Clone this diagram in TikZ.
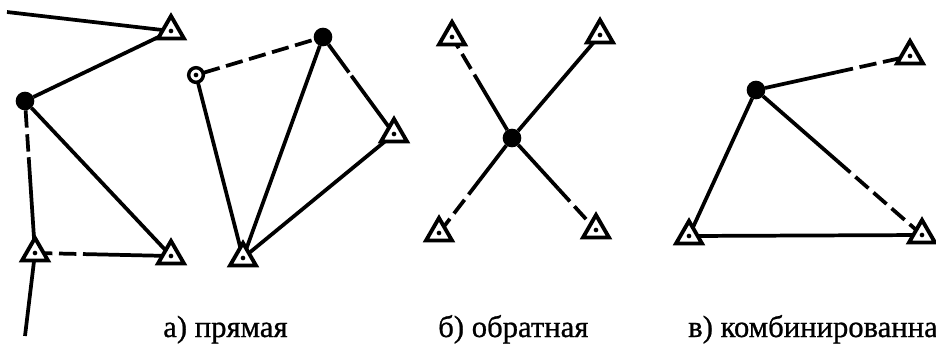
\documentclass[tikz,border=0pt]{standalone}
\usepackage{fontspec}
\setmainfont[FakeBold=0.8]{Liberation Serif}
\usetikzlibrary{shapes.geometric,calc}
\tikzset{
  x=0.75pt,y=-0.75pt,
  ptdot/.style={circle,fill=black,draw=none,inner sep=0pt,minimum size=3.5pt},
  tri/.style={regular polygon,regular polygon sides=3,draw=black,fill=white,line width=2.9pt,
     inner sep=0pt,outer sep=0pt,minimum size=22.5pt,label={[ptdot]center:}},
  ring/.style={circle,draw=black,fill=white,line width=2.6pt,inner sep=0pt,outer sep=0pt,minimum size=11pt,label={[ptdot]center:}},
  blk/.style={circle,fill=black,inner sep=0pt,outer sep=0pt,minimum size=14pt},
  ln/.style={draw=black,line width=2.8pt},
  dsh/.style={ln,dash pattern=on 13pt off 5pt},
  captxt/.style={font=\fontsize{23pt}{26pt}\selectfont,anchor=base west,inner sep=0pt}
}
\begin{document}
\begin{tikzpicture}
\useasboundingbox (0,0) rectangle (936,344);
\fill[white] (0,0) rectangle (936,344);
% part a, left
\coordinate (f1) at (7,12);
\coordinate (f2) at (25,336);
\coordinate (t1p) at (171,31);
\coordinate (t2p) at (35,253);
\coordinate (t3p) at (171,256);
\node[blk] (a1) at (25,101) {};
\coordinate (m1) at ($(a1)!0.37!(t2p)$);
\coordinate (m2) at ($(t2p)!0.39!(t3p)$);
\draw[ln] (f1) -- (t1p);
\draw[ln] (t1p) -- (a1);
\draw[dsh] (a1) -- (m1);
\draw[ln] (m1) -- (t2p);
\draw[ln] (a1) -- (t3p);
\draw[dsh] (t2p) -- (m2);
\draw[ln] (m2) -- (t3p);
\draw[ln] (f2) -- (t2p);
\node[tri] (t1) at (t1p) {};
\node[tri] (t2) at (t2p) {};
\node[tri] (t3) at (t3p) {};
% part a, right
\coordinate (t4p) at (243,258);
\coordinate (t5p) at (394,134);
\node[blk] (a2) at (323,37) {};
\node[ring] (r) at (196,75) {};
\coordinate (m3) at ($(a2)!0.62!(t5p)$);
\draw[dsh] (r) -- (a2);
\draw[ln] (r) -- (t4p);
\draw[ln] (a2) -- (t4p);
\draw[ln] (t5p) -- (t4p);
\draw[dsh,dash pattern=on 26pt off 3pt] (a2) -- (m3);
\draw[ln] (m3) -- (t5p);
\node[tri] (t4) at (t4p) {};
\node[tri] (t5) at (t5p) {};
% part b
\coordinate (t6p) at (452,37);
\coordinate (t7p) at (600,35);
\coordinate (t8p) at (439,233);
\coordinate (t9p) at (596,230);
\node[blk,minimum size=14pt] (b) at (512,138) {};
\coordinate (m4) at ($(b)!0.48!(t6p)$);
\coordinate (m5) at ($(b)!0.45!(t8p)$);
\coordinate (m6) at ($(b)!0.55!(t9p)$);
\draw[ln] (b) -- (m4);
\draw[dsh] (m4) -- (t6p);
\draw[ln] (b) -- (t7p);
\draw[ln] (b) -- (m5);
\draw[dsh] (m5) -- (t8p);
\draw[ln] (b) -- (m6);
\draw[dsh] (m6) -- (t9p);
\node[tri] (t6) at (t6p) {};
\node[tri] (t7) at (t7p) {};
\node[tri] (t8) at (t8p) {};
\node[tri] (t9) at (t9p) {};
% part c
\coordinate (t10p) at (910,56);
\coordinate (t11p) at (689,236);
\coordinate (t12p) at (922,235);
\node[blk] (c) at (756,90) {};
\coordinate (m7) at ($(c)!0.52!(t10p)$);
\coordinate (m8) at ($(c)!0.49!(t12p)$);
\draw[ln] (c) -- (m7);
\draw[dsh] (m7) -- (t10p);
\draw[ln] (c) -- (t11p);
\draw[ln] (c) -- (m8);
\draw[dsh] (m8) -- (t12p);
\draw[ln] (t11p) -- (t12p);
\node[tri] (t10) at (t10p) {};
\node[tri] (t11) at (t11p) {};
\node[tri] (t12) at (t12p) {};
% captions
\node[captxt] (ca) at (163,337) {а) прямая};
\node[captxt] (cb) at (438,337) {б) обратная};
\node[captxt] (cc) at (688,337) {в) комбинированна};
\end{tikzpicture}
\end{document}
